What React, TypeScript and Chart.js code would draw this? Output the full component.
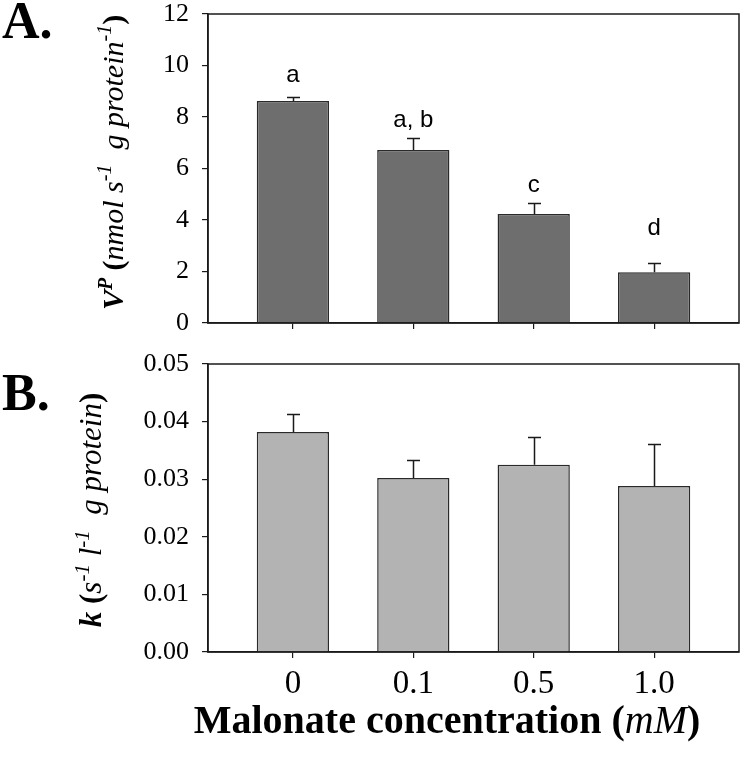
import React, { useEffect, useRef } from 'react';
import { Chart, registerables } from 'chart.js';

Chart.register(...registerables);

// ---- data ----
const concentrations = ['0', '0.1', '0.5', '1.0'];
const vpMeans = [8.62, 6.72, 4.23, 1.97];
const vpSE = [0.16, 0.46, 0.43, 0.36];
const vpGroups = ['a', 'a, b', 'c', 'd'];
const vpGroupLevels = [9.36, 7.61, 5.09, 3.4];
const vpTicks = [0, 2, 4, 6, 8, 10, 12];
const kMeans = [0.0382, 0.0302, 0.0325, 0.0288];
const kSE = [0.0032, 0.0031, 0.0048, 0.0073];
const kTicks = [0, 0.01, 0.02, 0.03, 0.04, 0.05];

const SERIF = '"Liberation Serif", "Times New Roman", serif';
const SANS = '"Liberation Sans", Arial, sans-serif';
const INK = '#1a1a1a';

type Run = { text: string; font: string; raise?: number };

function runsWidth(ctx: CanvasRenderingContext2D, runs: Run[]) {
  let w = 0;
  for (const r of runs) {
    ctx.font = r.font;
    w += ctx.measureText(r.text).width;
  }
  return w;
}

function drawRuns(ctx: CanvasRenderingContext2D, runs: Run[], x: number, y: number, align: 'left' | 'center', rotate: boolean) {
  ctx.save();
  ctx.translate(x, y);
  if (rotate) ctx.rotate(-Math.PI / 2);
  ctx.fillStyle = '#000';
  ctx.textBaseline = 'alphabetic';
  ctx.textAlign = 'left';
  let cx = align === 'center' ? -runsWidth(ctx, runs) / 2 : 0;
  for (const r of runs) {
    ctx.font = r.font;
    ctx.fillText(r.text, cx, -(r.raise || 0));
    cx += ctx.measureText(r.text).width;
  }
  ctx.restore();
}

const errorBarPlugin = (errors: number[]) => ({
  id: 'errorBars',
  afterDatasetsDraw(chart: any) {
    const meta = chart.getDatasetMeta(0);
    const yScale = chart.scales.y;
    const ctx = chart.ctx;
    ctx.save();
    ctx.strokeStyle = INK;
    ctx.lineWidth = 1.5;
    meta.data.forEach((bar: any, i: number) => {
      const v = chart.data.datasets[0].data[i].y;
      const top = Math.round(yScale.getPixelForValue(v + errors[i])) + 0.5;
      const x = Math.round(bar.x) + 0.5;
      ctx.beginPath();
      ctx.moveTo(x, bar.y);
      ctx.lineTo(x, top);
      ctx.moveTo(x - 6.5, top);
      ctx.lineTo(x + 6.5, top);
      ctx.stroke();
    });
    ctx.restore();
  },
});

const framePlugin = {
  id: 'frame',
  afterDraw(chart: any) {
    const { left, top, right, bottom } = chart.chartArea;
    const ctx = chart.ctx;
    ctx.save();
    ctx.strokeStyle = INK;
    ctx.lineWidth = 1.5;
    ctx.strokeRect(left, top, right - left, bottom - top);
    ctx.restore();
  },
};

const textPlugin = (draw: (chart: any) => void) => ({
  id: 'texts',
  afterDraw(chart: any) {
    draw(chart);
  },
});

function xScaleOptions(showLabels: boolean, height: number) {
  return {
    type: 'linear' as const,
    min: -0.705,
    max: concentrations.length - 1 + 0.705,
    offset: false,
    afterBuildTicks: (axis: any) => {
      axis.ticks = concentrations.map((_, i) => ({ value: i }));
    },
    afterFit: (scale: any) => {
      scale.height = height;
      scale.paddingLeft = 0;
      scale.paddingRight = 0;
    },
    ticks: {
      display: showLabels,
      callback: (v: any) => concentrations[Math.round(Number(v))] ?? '',
      font: { family: SERIF, size: 33, lineHeight: 1.2 },
      color: '#000',
      padding: 7,
      maxRotation: 0,
      autoSkip: false,
    },
    grid: { display: true, drawOnChartArea: false, drawTicks: true, tickLength: 6, color: INK, lineWidth: 1.2, offset: false },
    border: { display: true, color: INK, width: 1.5 },
  };
}

function yScaleOptions(max: number, tickValues: number[], fmt: (v: number) => string) {
  return {
    type: 'linear' as const,
    min: 0,
    max,
    afterBuildTicks: (axis: any) => {
      axis.ticks = tickValues.map((v) => ({ value: v }));
    },
    afterFit: (scale: any) => {
      scale.width = 208;
      scale.paddingTop = 0;
      scale.paddingBottom = 0;
    },
    ticks: {
      callback: (v: any) => fmt(Number(v)),
      font: { family: SERIF, size: 26, lineHeight: 1 },
      color: '#000',
      padding: 13,
    },
    grid: { display: true, drawOnChartArea: false, drawTicks: true, tickLength: 6, color: INK, lineWidth: 1.2 },
    border: { display: true, color: INK, width: 1.5 },
  };
}

const baseOptions = {
  responsive: false,
  animation: false as const,
  devicePixelRatio: 1,
  plugins: { legend: { display: false }, tooltip: { enabled: false } },
};

export default function App() {
  const refA = useRef<HTMLCanvasElement>(null);
  const refB = useRef<HTMLCanvasElement>(null);

  useEffect(() => {
    const chartA = new Chart(refA.current as HTMLCanvasElement, {
      type: 'bar',
      data: {
        datasets: [
          {
            data: vpMeans.map((v, i) => ({ x: i, y: v })),
            backgroundColor: '#6e6e6e',
            borderColor: '#2a2a2a',
            borderWidth: 1.5,
            barPercentage: 0.6,
            categoryPercentage: 1,
          },
        ],
      },
      options: {
        ...baseOptions,
        layout: { padding: { top: 14, right: 11, left: 0, bottom: 0 } },
        scales: {
          x: xScaleOptions(false, 17),
          y: yScaleOptions(12, vpTicks, (v) => String(v)),
        },
      } as any,
      plugins: [
        errorBarPlugin(vpSE),
        framePlugin,
        textPlugin((chart) => {
          const ctx = chart.ctx;
          const { top, bottom } = chart.chartArea;
          const xs = chart.scales.x;
          const ys = chart.scales.y;
          // significance letters
          ctx.save();
          ctx.font = `24px ${SANS}`;
          ctx.fillStyle = '#000';
          ctx.textAlign = 'center';
          ctx.textBaseline = 'alphabetic';
          vpGroups.forEach((g, i) => {
            ctx.fillText(g, xs.getPixelForValue(i), ys.getPixelForValue(vpGroupLevels[i]));
          });
          ctx.restore();
          // panel label
          drawRuns(ctx, [{ text: 'A.', font: `bold 52px ${SERIF}` }], 2, 38, 'left', false);
          // y title
          drawRuns(
            ctx,
            [
              { text: 'V', font: `italic bold 30px ${SERIF}` },
              { text: 'P', font: `italic bold 20px ${SERIF}`, raise: 11 },
              { text: ' (', font: `bold 30px ${SERIF}` },
              { text: 'nmol s', font: `italic 30px ${SERIF}` },
              { text: '-1', font: `italic 20px ${SERIF}`, raise: 12 },
              { text: '  g protein', font: `italic 30px ${SERIF}` },
              { text: '-1', font: `italic 20px ${SERIF}`, raise: 12 },
              { text: ')', font: `bold 30px ${SERIF}` },
            ],
            123,
            (top + bottom) / 2 - 6,
            'center',
            true
          );
        }),
      ],
    });

    const chartB = new Chart(refB.current as HTMLCanvasElement, {
      type: 'bar',
      data: {
        datasets: [
          {
            data: kMeans.map((v, i) => ({ x: i, y: v })),
            backgroundColor: '#b3b3b3',
            borderColor: '#2a2a2a',
            borderWidth: 1.5,
            barPercentage: 0.6,
            categoryPercentage: 1,
          },
        ],
      },
      options: {
        ...baseOptions,
        layout: { padding: { top: 24, right: 11, left: 0, bottom: 0 } },
        scales: {
          x: xScaleOptions(true, 122),
          y: yScaleOptions(0.05, kTicks, (v) => v.toFixed(2)),
        },
      } as any,
      plugins: [
        errorBarPlugin(kSE),
        framePlugin,
        textPlugin((chart) => {
          const ctx = chart.ctx;
          const { top, bottom } = chart.chartArea;
          drawRuns(ctx, [{ text: 'B.', font: `bold 52px ${SERIF}` }], 2, 70, 'left', false);
          drawRuns(
            ctx,
            [
              { text: 'k', font: `italic bold 31px ${SERIF}` },
              { text: ' (', font: `bold 31px ${SERIF}` },
              { text: 's', font: `italic 31px ${SERIF}` },
              { text: '-1', font: `italic 21px ${SERIF}`, raise: 12 },
              { text: ' l', font: `italic 31px ${SERIF}` },
              { text: '-1', font: `italic 21px ${SERIF}`, raise: 12 },
              { text: '  g protein', font: `italic 31px ${SERIF}` },
              { text: ')', font: `bold 31px ${SERIF}` },
            ],
            101,
            (top + bottom) / 2 + 2,
            'center',
            true
          );
          drawRuns(
            ctx,
            [
              { text: 'Malonate concentration (', font: `bold 40px ${SERIF}` },
              { text: 'mM', font: `italic 40px ${SERIF}` },
              { text: ')', font: `bold 40px ${SERIF}` },
            ],
            447,
            393,
            'center',
            false
          );
        }),
      ],
    });

    return () => {
      chartA.destroy();
      chartB.destroy();
    };
  }, []);

  return (
    <div style={{ position: 'absolute', left: 0, top: 0, width: 750, height: 774, background: '#fff' }}>
      <canvas ref={refA} width={750} height={340} style={{ position: 'absolute', left: 0, top: 0, display: 'block' }} />
      <canvas ref={refB} width={750} height={434} style={{ position: 'absolute', left: 0, top: 340, display: 'block' }} />
    </div>
  );
}
